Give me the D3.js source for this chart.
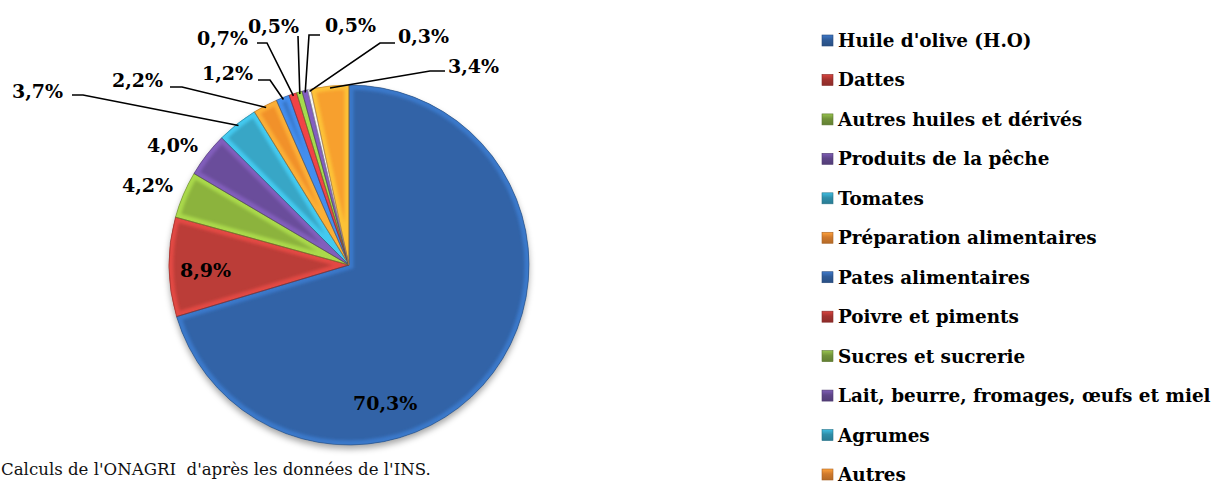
<!DOCTYPE html>
<html>
<head>
<meta charset="utf-8">
<script src="https://cdn.jsdelivr.net/npm/d3@7"></script>
<style>
  body { margin: 0; background: #fff; }
  svg { display: block; }
  .lbl { font-family: "DejaVu Serif", serif; font-weight: bold; font-size: 19px; fill: #000; }
  .leg { font-family: "DejaVu Serif", serif; font-weight: bold; font-size: 18.4px; fill: #000; }
  .src { font-family: "DejaVu Serif", serif; font-size: 16.6px; fill: #111; }
</style>
</head>
<body>
<svg id="chart" width="1231" height="488"></svg>
<script>
// data
var categories = ["Huile d'olive (H.O)", "Dattes", "Autres huiles et dérivés", "Produits de la pêche",
    "Tomates", "Préparation alimentaires", "Pates alimentaires", "Poivre et piments",
    "Sucres et sucrerie", "Lait, beurre, fromages, œufs et miel", "Agrumes", "Autres"];
var shares = [70.3, 8.9, 4.2, 4.0, 3.7, 2.2, 1.2, 0.7, 0.5, 0.5, 0.3, 3.4];

// colours (slice / legend marker)
var sliceColors = ["#3064a7", "#bb3d38", "#8cb33e", "#6b4d9b", "#37a6c6", "#f1912c",
    "#3775c4", "#c9373a", "#88b540", "#6c4ea0", "#cfd2da", "#f7a02e"];
var legendColors = ["#2f5b97", "#a3332f", "#71923a", "#5f4689", "#2f8ea9", "#d07a2d",
    "#2f5b97", "#a3332f", "#71923a", "#5f4689", "#2f8ea9", "#d07a2d"];

// label placement (left x, baseline y) and leader start / elbow x
var labelPos = [
    {x: 353, y: 410}, {x: 180, y: 277}, {x: 122, y: 192}, {x: 147, y: 152},
    {x: 12, y: 98, lx: 72, ly: 95, ex: 83},
    {x: 112, y: 87, lx: 170, ly: 87, ex: 182},
    {x: 202, y: 80, lx: 258, ly: 80, ex: 270},
    {x: 197, y: 45, lx: 257, ly: 43, ex: 267},
    {x: 248, y: 33, lx: 298, ly: 36, ex: 298},
    {x: 325, y: 32, lx: 320, ly: 35, ex: 309},
    {x: 398, y: 43, lx: 395, ly: 43, ex: 380},
    {x: 448, y: 73, lx: 445, ly: 71, ex: 430}
];

var svg = d3.select("#chart"),
    cx = 349, cy = 265, radius = 180;
var defs = svg.append("defs");

// soft shadow under the pie
var sh = defs.append("filter").attr("id", "shadow").attr("x", "-10%").attr("y", "-10%")
    .attr("width", "120%").attr("height", "125%");
sh.append("feDropShadow").attr("dx", 0).attr("dy", 4).attr("stdDeviation", 3)
    .attr("flood-color", "#000").attr("flood-opacity", 0.35);
defs.append("filter").attr("id", "soft").append("feGaussianBlur").attr("stdDeviation", 1.6);

var pie = d3.pie().sort(null).value(function(d){ return d; });
var arc = d3.arc().innerRadius(0).outerRadius(radius);
var arcs = pie(shares);

var g = svg.append("g").attr("transform", "translate(" + cx + "," + cy + ")");
var base = g.append("g").attr("filter", "url(#shadow)");

arcs.forEach(function(d, i){
    defs.append("clipPath").attr("id", "clip" + i)
        .append("path").attr("d", arc(d));
});

// slice fill
base.selectAll("path.slice").data(arcs).enter().append("path")
    .attr("class", "slice")
    .attr("d", arc)
    .attr("fill", function(d, i){ return sliceColors[i]; });

// bevel highlight along slice edges
var bev = g.append("g");
bev.selectAll("path.bevel").data(arcs).enter().append("path")
    .attr("class", "bevel")
    .attr("d", arc)
    .attr("fill", "none")
    .attr("clip-path", function(d, i){ return "url(#clip" + i + ")"; })
    .attr("stroke", function(d, i){ return d3.color(sliceColors[i]).brighter(0.7); })
    .attr("stroke-width", 9)
    .attr("stroke-opacity", 0.75)
    .attr("filter", "url(#soft)");

// thin dark outline
g.selectAll("path.edge").data(arcs).enter().append("path")
    .attr("class", "edge")
    .attr("d", arc)
    .attr("fill", "none")
    .attr("stroke", function(d, i){ return d3.color(sliceColors[i]).darker(1); })
    .attr("stroke-width", 0.7)
    .attr("stroke-opacity", 0.8);

// leader lines
function edgePoint(d){
    var a = (d.startAngle + d.endAngle) / 2;
    return [cx + (radius - 2) * Math.sin(a), cy - (radius - 2) * Math.cos(a)];
}
var line = d3.line();
svg.append("g").selectAll("path").data(arcs.filter(function(d, i){ return labelPos[i].lx !== undefined; }))
    .enter().append("path")
    .attr("d", function(d){
        var p = labelPos[d.index];
        return line([[p.lx, p.ly], [p.ex, p.ly], edgePoint(d)]);
    })
    .attr("fill", "none")
    .attr("stroke", "#000")
    .attr("stroke-width", 1.6);

// value labels
function fmt(v){ return v.toFixed(1).replace(".", ",") + "%"; }
svg.append("g").selectAll("text").data(arcs).enter().append("text")
    .attr("class", "lbl")
    .attr("x", function(d){ return labelPos[d.index].x; })
    .attr("y", function(d){ return labelPos[d.index].y; })
    .text(function(d){ return fmt(d.data); });

// legend
var legY = d3.scalePoint().domain(d3.range(categories.length)).range([41, 475]);
var leg = svg.append("g").selectAll("g").data(categories).enter().append("g")
    .attr("transform", function(d, i){ return "translate(822," + legY(i) + ")"; });
leg.each(function(d, i){
    var gr = defs.append("linearGradient").attr("id", "lg" + i)
        .attr("x1", 0).attr("y1", 0).attr("x2", 0).attr("y2", 1);
    gr.append("stop").attr("offset", "0%").attr("stop-color", d3.color(legendColors[i]).brighter(0.8));
    gr.append("stop").attr("offset", "45%").attr("stop-color", legendColors[i]);
    gr.append("stop").attr("offset", "100%").attr("stop-color", d3.color(legendColors[i]).darker(0.4));
});
leg.append("rect")
    .attr("x", 0).attr("y", -6).attr("width", 11).attr("height", 11)
    .attr("fill", function(d, i){ return "url(#lg" + i + ")"; })
    .attr("stroke", function(d, i){ return d3.color(legendColors[i]).darker(0.6); })
    .attr("stroke-width", 0.6);
leg.append("text")
    .attr("class", "leg")
    .attr("x", 16).attr("y", 6)
    .text(function(d){ return d; });

// source note
svg.append("text").attr("class", "src")
    .attr("x", 1).attr("y", 475)
    .attr("xml:space", "preserve")
    .text("Calculs de l'ONAGRI  d'après les données de l'INS.");
</script>
</body>
</html>
